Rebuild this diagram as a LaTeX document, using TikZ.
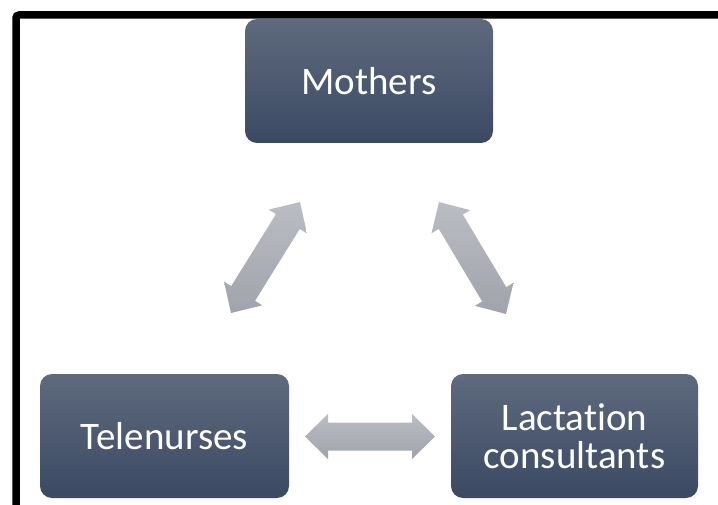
\documentclass[tikz,border=0pt]{standalone}
\usepackage{fontspec}
\setmainfont[Ligatures={NoCommon}]{Carlito}
\usetikzlibrary{calc}
\definecolor{boxtop}{HTML}{5E6A7D}
\definecolor{boxbot}{HTML}{3B4963}
\definecolor{arrtop}{HTML}{BABDC4}
\definecolor{arrbot}{HTML}{A0A3AB}
\tikzset{
  agent/.style={rectangle, rounded corners=12pt, top color=boxtop, bottom color=boxbot,
    draw=none, text=white, align=center, inner sep=0pt,
    font=\fontsize{39}{38}\selectfont},
  arrowfill/.style={top color=arrtop, bottom color=arrbot, draw=none},
}
\newcommand\dblarrow[2]{%
  \path[arrowfill] (#1)
    -- ($(#1)!23pt!(#2)!22.5pt!90:(#2)$)
    -- ($(#1)!23pt!(#2)!14pt!90:(#2)$)
    -- ($(#2)!23pt!(#1)!14pt!-90:(#1)$)
    -- ($(#2)!23pt!(#1)!22.5pt!-90:(#1)$)
    -- (#2)
    -- ($(#2)!23pt!(#1)!22.5pt!90:(#1)$)
    -- ($(#2)!23pt!(#1)!14pt!90:(#1)$)
    -- ($(#1)!23pt!(#2)!14pt!-90:(#2)$)
    -- ($(#1)!23pt!(#2)!22.5pt!-90:(#2)$)
    -- cycle;}
\begin{document}
\begin{tikzpicture}[x=1pt,y=-1pt]
\useasboundingbox (0,0) rectangle (718,505);
\fill[white] (0,0) rectangle (718,505);
\begin{scope}
\clip (0,0) rectangle (718,505);
\draw[line width=7.5pt, rounded corners=3pt] (16,540) |- (760,15);
\end{scope}
\node[agent, minimum width=248pt, minimum height=124pt] (mothers) at (369,81) {Mothers};
\node[agent, minimum width=249pt, minimum height=124pt] (tele) at (164.5,436) {Telenurses};
\node[agent, minimum width=247pt, minimum height=124pt] (lact) at (574.5,436) {Lactation\\consultants};
\coordinate (l1) at (231,313);
\coordinate (l2) at (300,202);
\coordinate (r1) at (439,202);
\coordinate (r2) at (506,314);
\coordinate (h1) at (305,436.5);
\coordinate (h2) at (435,436.5);
\dblarrow{l1}{l2}
\dblarrow{r1}{r2}
\dblarrow{h1}{h2}
\end{tikzpicture}
\end{document}
